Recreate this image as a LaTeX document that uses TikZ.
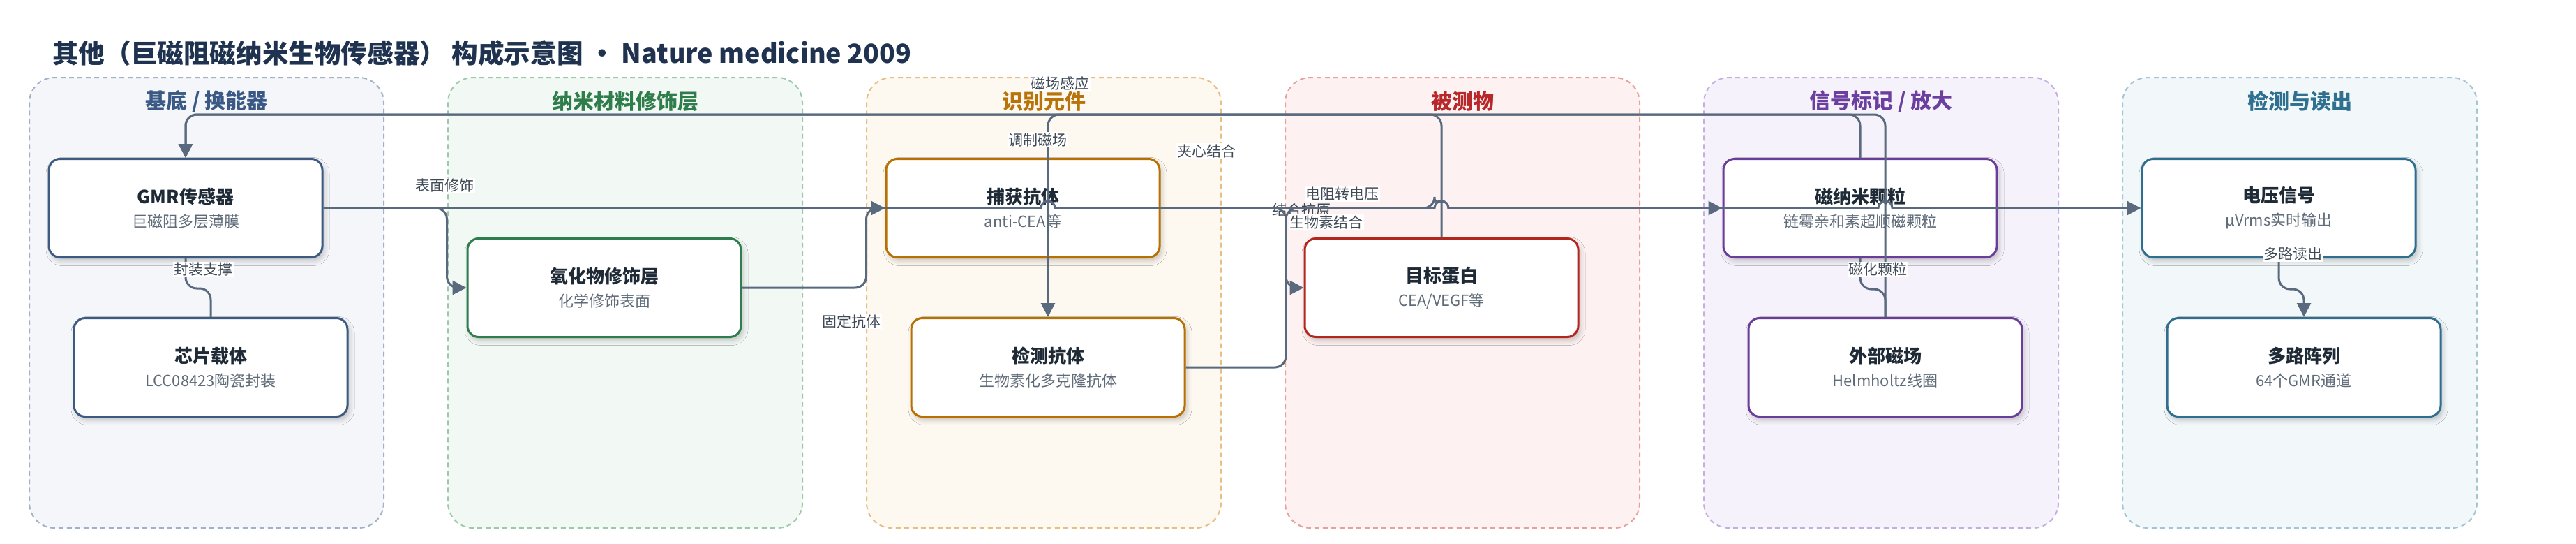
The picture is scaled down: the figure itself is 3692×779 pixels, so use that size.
\documentclass[tikz,border=0pt]{standalone}
\usepackage{fontspec}
\setmainfont{Noto Sans CJK SC}
\usetikzlibrary{arrows.meta,shadows.blur}
\definecolor{edgec}{HTML}{5A6A7E}
\definecolor{labc}{HTML}{3F4A56}
\definecolor{titc}{HTML}{1E2A36}
\definecolor{subc}{HTML}{5F6B78}
\definecolor{mtitle}{HTML}{1F3350}
\definecolor{gAd}{HTML}{A3B1C6}\definecolor{gAf}{HTML}{F4F6FA}\definecolor{gAt}{HTML}{3A5A85}\definecolor{gAn}{HTML}{3D5A80}
\definecolor{gBd}{HTML}{9DC9AB}\definecolor{gBf}{HTML}{F2F8F4}\definecolor{gBt}{HTML}{2E7D4A}\definecolor{gBn}{HTML}{2E7D4F}
\definecolor{gCd}{HTML}{E6BF85}\definecolor{gCf}{HTML}{FDF8F0}\definecolor{gCt}{HTML}{B8740A}\definecolor{gCn}{HTML}{B87100}
\definecolor{gDd}{HTML}{E8A09B}\definecolor{gDf}{HTML}{FDF2F1}\definecolor{gDt}{HTML}{B8282A}\definecolor{gDn}{HTML}{B3261E}
\definecolor{gEd}{HTML}{C5AEE0}\definecolor{gEf}{HTML}{F6F2FB}\definecolor{gEt}{HTML}{6B3FA0}\definecolor{gEn}{HTML}{6A3D9A}
\definecolor{gFd}{HTML}{A2C6D3}\definecolor{gFf}{HTML}{F2F7F9}\definecolor{gFt}{HTML}{2F6F8F}\definecolor{gFn}{HTML}{2F6E8E}
\begin{document}
\begin{tikzpicture}[x=1pt,y=-1pt,
  grp/.style={draw, dash pattern=on 7pt off 5pt, line width=2pt, rounded corners=36pt,
    minimum width=508pt, minimum height=645pt, inner sep=0pt},
  gtitle/.style={font=\fontsize{30}{34}\selectfont\bfseries, inner sep=0pt},
  box/.style={draw, fill=white, line width=3pt, rounded corners=16pt,
    minimum width=392pt, minimum height=141pt, inner sep=0pt, align=center,
    font=\fontsize{22}{34}\selectfont, text=subc,
    blur shadow={shadow xshift=3pt, shadow yshift=-5pt, shadow blur radius=7pt, shadow opacity=22}},
  conn/.style={draw=edgec, line width=3pt, rounded corners=16pt},
  arr/.style={-{Triangle[length=20pt,width=20pt]}},
  lab/.style={fill=white, inner sep=1.5pt, text=labc, font=\fontsize{21}{24}\selectfont},
  ttl/.style={font=\fontsize{26}{34}\selectfont\bfseries, text=titc}
]
\useasboundingbox[fill=white] (0,0) rectangle (3692,779);

% title
\node[anchor=west, inner sep=0pt, font=\fontsize{37.6}{40}\selectfont\bfseries, text=mtitle] (title) at (75,76)
  {其他（巨磁阻磁纳米生物传感器） 构成示意图 · Nature medicine 2009};

% groups
\node[grp, draw=gAd, fill=gAf] (g1) at (296,433.5) {};
\node[grp, draw=gBd, fill=gBf] (g2) at (896,433.5) {};
\node[grp, draw=gCd, fill=gCf] (g3) at (1496,433.5) {};
\node[grp, draw=gDd, fill=gDf] (g4) at (2096,433.5) {};
\node[grp, draw=gEd, fill=gEf] (g5) at (2696,433.5) {};
\node[grp, draw=gFd, fill=gFf] (g6) at (3296,433.5) {};
\node[gtitle, text=gAt] (t1) at (296,145) {基底 / 换能器};
\node[gtitle, text=gBt] (t2) at (896,145) {纳米材料修饰层};
\node[gtitle, text=gCt] (t3) at (1496,145) {识别元件};
\node[gtitle, text=gDt] (t4) at (2096,145) {被测物};
\node[gtitle, text=gEt] (t5) at (2696,145) {信号标记 / 放大};
\node[gtitle, text=gFt] (t6) at (3296,145) {检测与读出};

% nodes
\node[box, draw=gAn] (gmr) at (266,298) {{\fontsize{26}{34}\selectfont\bfseries\color{titc}GMR传感器}\\巨磁阻多层薄膜};
\node[box, draw=gAn] (chip) at (302,526) {{\fontsize{26}{34}\selectfont\bfseries\color{titc}芯片载体}\\LCC08423陶瓷封装};
\node[box, draw=gBn] (oxide) at (866,412) {{\fontsize{26}{34}\selectfont\bfseries\color{titc}氧化物修饰层}\\化学修饰表面};
\node[box, draw=gCn] (capture) at (1466,298) {{\fontsize{26}{34}\selectfont\bfseries\color{titc}捕获抗体}\\anti-CEA等};
\node[box, draw=gCn] (detect) at (1502,526) {{\fontsize{26}{34}\selectfont\bfseries\color{titc}检测抗体}\\生物素化多克隆抗体};
\node[box, draw=gDn] (target) at (2066,412) {{\fontsize{26}{34}\selectfont\bfseries\color{titc}目标蛋白}\\CEA/VEGF等};
\node[box, draw=gEn] (mnp) at (2666,298) {{\fontsize{26}{34}\selectfont\bfseries\color{titc}磁纳米颗粒}\\链霉亲和素超顺磁颗粒};
\node[box, draw=gEn] (ext) at (2702,526) {{\fontsize{26}{34}\selectfont\bfseries\color{titc}外部磁场}\\Helmholtz线圈};
\node[box, draw=gFn] (volt) at (3266,298) {{\fontsize{26}{34}\selectfont\bfseries\color{titc}电压信号}\\µVrms实时输出};
\node[box, draw=gFn] (multi) at (3302,526) {{\fontsize{26}{34}\selectfont\bfseries\color{titc}多路阵列}\\64个GMR通道};

\coordinate (topbus) at (0,164);
\coordinate (busx) at (1843,0);

% label lying under the lines
\node[lab, fill=none] (l4) at (1865,300) {结合抗原};

% connectors
\draw[conn,arr] (gmr.east) -| ([xshift=-28pt]oxide.west) -- (oxide.west);
\draw[conn] (gmr.south) -- ++(0,43) -| (chip.north);
\draw[conn,arr] (oxide.east) -| ([xshift=-27pt]capture.west) -- (capture.west);
\draw[conn,arr] (capture.east) -| (busx |- target.west) -- (target.west);
\draw[conn,arr] (detect.east) -| (busx |- mnp.west) -- (2056,298) [sharp corners]
  arc[start angle=180,end angle=0,radius=10pt] -- (mnp.west);
\draw[conn,arr] (target.north) |- (detect.north |- topbus) -- (detect.north);
\draw[conn,arr] (mnp.north) |- (gmr.north |- topbus) -- (gmr.north);
\draw[conn,arr] (ext.north) |- (gmr.north |- topbus) -- (gmr.north);
\draw[conn] (mnp.south) -- ++(0,44) -| (ext.north);
\draw[conn,arr,sharp corners] (gmr.east) -- (1492,298)
  arc[start angle=180,end angle=0,radius=10pt] -- (2056,298)
  arc[start angle=180,end angle=0,radius=10pt] -- (2692,298)
  arc[start angle=180,end angle=0,radius=10pt] -- (volt.west);
\draw[conn,arr] (volt.south) -- ++(0,44) -| (multi.north);

% labels
\node[lab] (l1) at (637,266) {表面修饰};
\node[lab] (l2) at (291.5,386) {封装支撑};
\node[lab] (l3) at (1220,460) {固定抗体};
\node[lab] (l5) at (1901,318) {生物素结合};
\node[lab] (l6) at (1923.5,277.5) {电阻转电压};
\node[lab] (l7) at (1729,216) {夹心结合};
\node[lab] (l8) at (1487.5,200) {调制磁场};
\node[lab] (l9) at (1519,120) {磁场感应};
\node[lab] (l10) at (2691.5,386) {磁化颗粒};
\node[lab] (l11) at (3286,364) {多路读出};
\end{tikzpicture}
\end{document}
